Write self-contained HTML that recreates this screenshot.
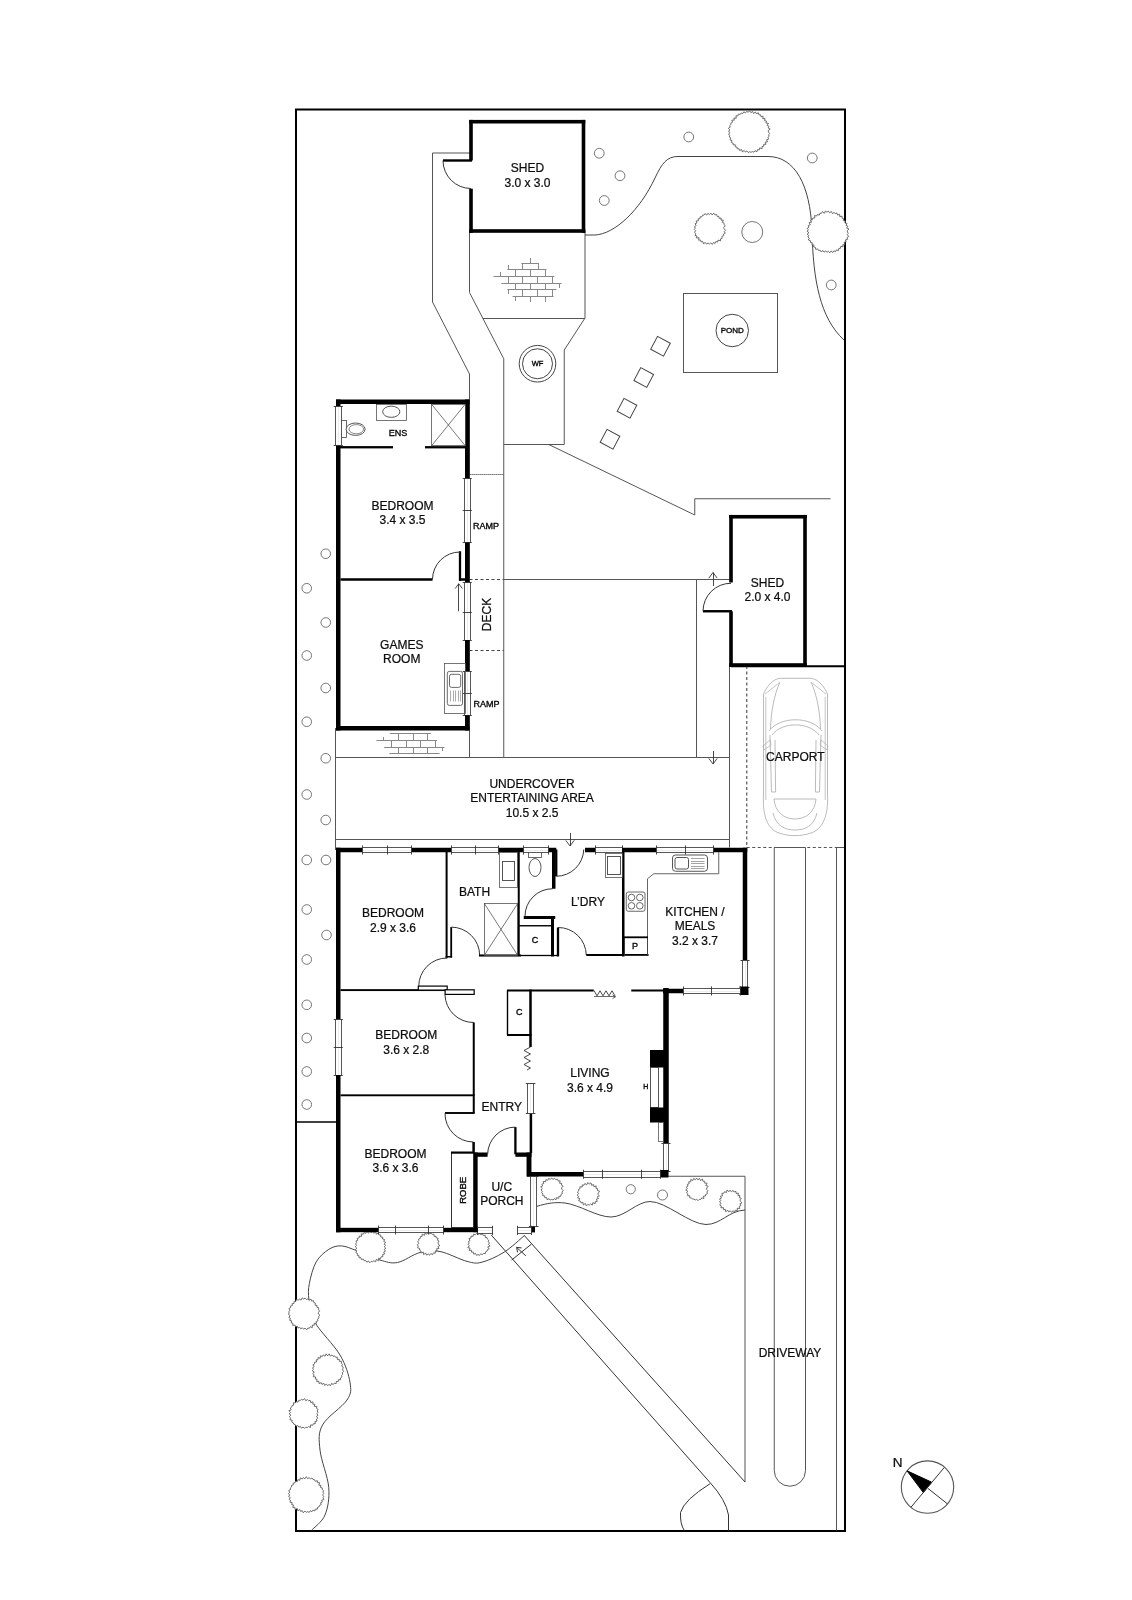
<!DOCTYPE html>
<html><head><meta charset="utf-8">
<style>
html,body{margin:0;padding:0;background:#fff;}
body{width:1132px;height:1600px;overflow:hidden;}
svg{display:block;font-family:"Liberation Sans",sans-serif;will-change:transform;}
text{stroke:#000;stroke-width:0.22px;}
</style></head><body>
<svg width="1132" height="1600" viewBox="0 0 1132 1600">
<rect x="296" y="109.5" width="549" height="1421.5" rx="0" stroke="#000" stroke-width="2" fill="none" />
<line x1="296" y1="1122" x2="336" y2="1122" stroke="#000" stroke-width="1.5" />
<polyline points="471,153 432.5,153 432.5,302 469.5,374 469.5,757.5" stroke="#555" stroke-width="1" fill="none" />
<polyline points="469.5,231 469.5,292.5 503.75,358.75 503.75,757.5" stroke="#555" stroke-width="1" fill="none" />
<polyline points="585,231 585,318 564.25,350 564.25,444.5" stroke="#555" stroke-width="1" fill="none" />
<line x1="482.7" y1="318.5" x2="585" y2="318.5" stroke="#555" stroke-width="1" />
<line x1="503.75" y1="444.5" x2="564.25" y2="444.5" stroke="#555" stroke-width="1" />
<polyline points="548.75,444.5 694.75,515 694.75,498.75 830.5,498.75" stroke="#555" stroke-width="1" fill="none" />
<line x1="469.5" y1="474.5" x2="503.75" y2="474.5" stroke="#444" stroke-width="1" stroke-dasharray="1.2,0.8"/>
<line x1="469.5" y1="579.5" x2="503.75" y2="579.5" stroke="#444" stroke-width="1" stroke-dasharray="3,2.5"/>
<line x1="469.5" y1="650.5" x2="503.75" y2="650.5" stroke="#444" stroke-width="1" stroke-dasharray="3,2.5"/>
<line x1="503.75" y1="579.5" x2="731" y2="579.5" stroke="#555" stroke-width="1" />
<line x1="696.5" y1="579.5" x2="696.5" y2="757.5" stroke="#555" stroke-width="1" />
<line x1="335.75" y1="757.5" x2="729.25" y2="757.5" stroke="#555" stroke-width="1" />
<line x1="335.75" y1="839.5" x2="729.25" y2="839.5" stroke="#555" stroke-width="1" />
<line x1="335.5" y1="728" x2="335.5" y2="850" stroke="#555" stroke-width="1" />
<line x1="729.5" y1="666" x2="729.5" y2="847.5" stroke="#555" stroke-width="1" />
<line x1="713.5" y1="586" x2="713.5" y2="572.5" stroke="#333" stroke-width="0.9" />
<line x1="713" y1="572.5" x2="717.19" y2="578.11" stroke="#333" stroke-width="0.9" />
<line x1="713" y1="572.5" x2="708.81" y2="578.11" stroke="#333" stroke-width="0.9" />
<line x1="713.5" y1="751" x2="713.5" y2="764" stroke="#333" stroke-width="0.9" />
<line x1="713" y1="764" x2="708.81" y2="758.39" stroke="#333" stroke-width="0.9" />
<line x1="713" y1="764" x2="717.19" y2="758.39" stroke="#333" stroke-width="0.9" />
<line x1="570.5" y1="833" x2="570.5" y2="846" stroke="#333" stroke-width="0.9" />
<line x1="570" y1="846" x2="565.81" y2="840.39" stroke="#333" stroke-width="0.9" />
<line x1="570" y1="846" x2="574.19" y2="840.39" stroke="#333" stroke-width="0.9" />
<line x1="731" y1="666.25" x2="844.5" y2="666.25" stroke="#000" stroke-width="2" />
<line x1="746.75" y1="666" x2="746.75" y2="847.5" stroke="#555" stroke-width="1.2" stroke-dasharray="3,2.5"/>
<line x1="746.75" y1="847.5" x2="844.5" y2="847.5" stroke="#555" stroke-width="1.2" stroke-dasharray="3,2.5"/>
<path d="M774.25,847.5 L774.25,1470.6 A15.6,15.6 0 0 0 805.5,1470.6 L805.5,847.5 Z" stroke="#555" stroke-width="1" fill="none" />
<line x1="836.5" y1="847.5" x2="836.5" y2="1530.5" stroke="#555" stroke-width="1" />
<line x1="836" y1="847.5" x2="844" y2="847.5" stroke="#555" stroke-width="1" />
<polyline points="668,1176.25 745,1176.25 745,1482" stroke="#555" stroke-width="1" fill="none" />
<line x1="524.1" y1="1235.3" x2="745" y2="1482" stroke="#333" stroke-width="1" />
<line x1="491.25" y1="1235" x2="710" y2="1482.5" stroke="#333" stroke-width="1" />
<path d="M710,1482.5 Q726,1500 728.5,1515 L728.5,1530.5" stroke="#333" stroke-width="1" fill="none" />
<path d="M710,1483.75 Q684,1500 680.5,1512.5 Q680,1524 684.25,1530.5" stroke="#333" stroke-width="1" fill="none" />
<path d="M585,235 L595,235 C615,234 640,210 655,178 C662,163 667,156.5 678,156.5 L768,156.5 C795,156.5 810,185 812,230 C813,280 820,318 844,340" stroke="#444" stroke-width="1" fill="none" />
<circle cx="599.25" cy="153.25" r="4.9" stroke="#666" stroke-width="0.9" fill="none"/>
<circle cx="620" cy="175.75" r="4.9" stroke="#666" stroke-width="0.9" fill="none"/>
<circle cx="604.25" cy="200.5" r="4.9" stroke="#666" stroke-width="0.9" fill="none"/>
<circle cx="688.75" cy="137" r="4.9" stroke="#666" stroke-width="0.9" fill="none"/>
<circle cx="812.25" cy="158" r="4.9" stroke="#666" stroke-width="0.9" fill="none"/>
<circle cx="831.25" cy="285" r="4.9" stroke="#666" stroke-width="0.9" fill="none"/>
<polygon points="768.47,132.0 769.65,133.44 768.61,134.75 769.17,136.28 767.92,137.42 768.64,139.14 766.53,139.79 767.57,141.87 765.25,142.14 765.94,144.31 763.69,144.31 763.8,146.29 762.04,146.48 762.09,148.78 759.71,147.89 759.3,149.89 757.59,149.66 756.95,151.8 755.01,150.61 753.96,152.15 752.39,151.63 751.04,152.27 749.6,151.76 748.16,152.56 746.9,150.9 745.31,152.03 744.22,150.54 742.3,151.94 741.72,149.53 739.67,150.56 739.09,148.69 737.28,148.85 736.9,147.02 735.24,146.77 735.27,144.8 733.19,144.74 733.09,143.06 731.36,142.47 732.02,140.51 729.92,139.91 730.87,138.05 729.28,137.04 729.86,135.46 728.37,134.22 730.12,132.68 728.39,131.26 729.93,129.95 728.4,128.28 730.22,127.2 729.69,125.57 730.85,124.47 730.94,122.96 732.58,122.24 731.87,120.11 734.32,120.16 733.92,117.96 736.22,118.26 735.93,115.81 737.86,115.97 738.39,114.17 740.18,114.43 741.11,113.06 742.8,113.5 743.78,111.83 745.49,112.89 746.69,111.4 748.21,112.29 749.62,110.76 750.96,112.7 752.57,111.3 753.56,113.54 755.46,111.94 756.33,113.78 758.34,112.75 758.91,114.81 760.57,114.81 760.97,116.68 763.13,116.29 762.75,118.74 765.05,118.53 764.6,120.68 766.5,121.07 765.94,123.01 768.46,123.34 767.11,125.42 768.98,126.27 768.11,127.94 770.21,129.02 768.18,130.66" stroke="#555" stroke-width="0.85" fill="#fff" stroke-linejoin="round"/>
<polygon points="724.1,228.75 725.53,230.23 724.27,231.51 725.24,233.23 723.49,234.16 723.65,235.79 721.86,236.39 722.15,238.31 720.57,238.83 720.55,240.9 718.06,240.08 717.7,242.03 715.84,241.5 715.1,243.33 713.42,242.66 712.35,244.43 710.75,242.88 709.39,244.05 708.08,242.97 706.47,244.07 705.41,242.55 703.44,243.73 702.85,241.61 701.0,241.93 700.62,240.04 698.59,240.18 699.11,237.78 696.47,238.02 696.98,235.99 694.99,235.37 695.84,233.49 694.49,232.4 695.59,230.75 694.36,229.47 695.23,228.07 694.54,226.6 696.16,225.51 695.07,223.75 696.92,222.99 696.14,221.04 698.31,220.76 698.08,218.85 699.93,218.7 700.07,216.77 701.86,216.87 702.51,215.24 704.02,215.13 704.97,213.57 706.81,215.01 707.93,213.3 709.42,214.51 710.85,213.12 712.04,214.92 713.87,213.14 714.88,214.77 716.54,214.52 717.14,216.41 718.85,216.35 719.05,218.29 721.19,218.08 720.97,220.11 723.39,220.15 722.29,222.4 724.01,223.14 724.02,224.63 725.3,225.8 723.73,227.43" stroke="#555" stroke-width="0.85" fill="#fff" stroke-linejoin="round"/>
<polygon points="847.44,232.0 848.28,233.43 847.23,234.73 848.8,236.47 846.98,237.51 847.7,239.26 845.47,239.88 846.19,241.8 844.11,242.21 844.96,244.51 842.79,244.61 843.04,246.77 840.73,246.41 840.47,248.3 838.84,248.46 838.42,250.56 836.44,249.86 835.64,251.67 833.83,250.84 832.79,252.49 831.03,250.89 829.83,252.74 828.34,251.25 826.92,252.3 825.67,250.78 824.03,252.19 822.99,250.49 821.09,251.82 820.16,250.24 818.48,250.44 817.68,248.94 815.67,249.35 815.39,247.33 813.78,246.99 813.9,244.91 811.92,244.76 812.24,242.78 810.3,242.36 810.5,240.65 808.38,240.03 809.25,238.17 807.85,237.08 808.75,235.43 807.02,234.23 809.03,232.67 807.05,231.26 808.3,229.91 807.25,228.3 808.95,227.19 808.26,225.51 810.34,224.78 809.09,222.66 811.4,222.29 810.59,220.08 812.43,219.65 812.73,218.03 814.72,218.0 814.5,215.59 816.63,216.0 817.35,214.52 819.27,215.09 819.92,213.21 821.48,213.3 822.48,211.63 824.33,213.31 825.4,211.03 826.95,212.15 828.37,211.05 829.7,212.82 831.3,211.41 832.33,213.47 834.0,212.59 835.2,213.48 836.95,213.06 837.51,215.06 839.68,214.27 839.75,216.64 842.02,216.13 842.07,218.18 843.61,218.69 843.41,220.63 845.4,220.98 844.85,222.92 847.04,223.42 845.98,225.38 847.9,226.23 846.61,228.0 849.0,229.02 847.21,230.64" stroke="#555" stroke-width="0.85" fill="#fff" stroke-linejoin="round"/>
<circle cx="752.25" cy="232" r="10.5" stroke="#666" stroke-width="0.9" fill="none"/>
<rect x="683.5" y="293.5" width="94.0" height="79.0" rx="0" stroke="#555" stroke-width="1" fill="none" />
<circle cx="732.25" cy="330.5" r="16.25" stroke="#444" stroke-width="1" fill="none"/>
<text x="732.25" y="333.36" font-size="8" text-anchor="middle" fill="#111" style="stroke-width:0.35px">POND</text>
<rect x="653.25" y="339.0" width="14.5" height="14.5" fill="none" stroke="#444" stroke-width="1" transform="rotate(28 660.5 346.25)"/>
<rect x="636.5" y="370.25" width="14.5" height="14.5" fill="none" stroke="#444" stroke-width="1" transform="rotate(28 643.75 377.5)"/>
<rect x="619.75" y="401.0" width="14.5" height="14.5" fill="none" stroke="#444" stroke-width="1" transform="rotate(28 627 408.25)"/>
<rect x="602.75" y="432.0" width="14.5" height="14.5" fill="none" stroke="#444" stroke-width="1" transform="rotate(28 610 439.25)"/>
<circle cx="325.75" cy="553.75" r="4.8" stroke="#666" stroke-width="0.9" fill="none"/>
<circle cx="306.75" cy="588.25" r="4.8" stroke="#666" stroke-width="0.9" fill="none"/>
<circle cx="325.75" cy="622.5" r="4.8" stroke="#666" stroke-width="0.9" fill="none"/>
<circle cx="306.75" cy="655.5" r="4.8" stroke="#666" stroke-width="0.9" fill="none"/>
<circle cx="325.75" cy="688" r="4.8" stroke="#666" stroke-width="0.9" fill="none"/>
<circle cx="306.75" cy="721.75" r="4.8" stroke="#666" stroke-width="0.9" fill="none"/>
<circle cx="325.75" cy="758.25" r="4.8" stroke="#666" stroke-width="0.9" fill="none"/>
<circle cx="306.75" cy="794.5" r="4.8" stroke="#666" stroke-width="0.9" fill="none"/>
<circle cx="325.75" cy="820" r="4.8" stroke="#666" stroke-width="0.9" fill="none"/>
<circle cx="306.75" cy="860" r="4.8" stroke="#666" stroke-width="0.9" fill="none"/>
<circle cx="326" cy="860" r="4.8" stroke="#666" stroke-width="0.9" fill="none"/>
<circle cx="306.75" cy="909.5" r="4.8" stroke="#666" stroke-width="0.9" fill="none"/>
<circle cx="326.5" cy="935" r="4.8" stroke="#666" stroke-width="0.9" fill="none"/>
<circle cx="306.75" cy="959.5" r="4.8" stroke="#666" stroke-width="0.9" fill="none"/>
<circle cx="306.75" cy="1004.8" r="4.8" stroke="#666" stroke-width="0.9" fill="none"/>
<circle cx="306.75" cy="1038" r="4.8" stroke="#666" stroke-width="0.9" fill="none"/>
<circle cx="306.75" cy="1071.5" r="4.8" stroke="#666" stroke-width="0.9" fill="none"/>
<circle cx="306.75" cy="1104.5" r="4.8" stroke="#666" stroke-width="0.9" fill="none"/>
<path d="M536.25,1206.5 C548,1203 555,1202 565,1203 C580,1205 597,1217 611,1217 C625,1217 637,1201.5 650,1201.5 C666,1201.5 690,1224.5 706,1224.5 C721,1224.5 728,1211 745,1210" stroke="#444" stroke-width="1" fill="none" />
<polygon points="561.86,1189.25 563.28,1190.77 561.94,1191.97 562.33,1193.63 560.88,1194.51 560.87,1196.25 558.9,1196.39 558.72,1198.37 556.53,1197.51 556.04,1199.74 554.22,1198.57 553.08,1200.0 551.66,1199.44 550.17,1200.07 549.07,1198.68 547.15,1199.7 546.64,1197.64 544.82,1197.75 544.64,1195.9 542.64,1195.68 542.91,1193.84 541.7,1192.83 542.24,1191.23 540.98,1189.99 542.34,1188.6 540.66,1186.94 542.64,1186.0 541.86,1184.13 543.62,1183.5 543.31,1181.39 545.64,1181.73 545.86,1179.63 547.83,1180.26 548.65,1178.45 550.32,1179.3 551.62,1178.0 552.99,1179.37 554.61,1178.28 555.72,1179.6 557.53,1179.17 558.1,1180.98 560.16,1180.81 559.58,1183.26 561.77,1183.46 561.52,1185.21 563.23,1186.17 561.45,1187.98" stroke="#555" stroke-width="0.85" fill="#fff" stroke-linejoin="round"/>
<polygon points="597.77,1194.25 599.39,1195.75 597.39,1196.75 598.41,1198.56 596.4,1199.08 597.25,1201.36 595.33,1201.57 595.19,1203.67 592.84,1202.63 592.39,1205.0 590.58,1204.04 589.35,1205.14 587.91,1204.53 586.29,1205.85 585.4,1203.44 583.3,1204.91 582.98,1202.51 580.96,1202.87 580.54,1201.22 578.66,1200.83 579.72,1198.56 577.64,1197.93 578.53,1196.23 577.14,1194.99 578.68,1193.61 577.35,1192.04 578.69,1190.93 578.59,1189.37 580.04,1188.62 579.91,1186.71 582.17,1187.06 582.26,1184.87 584.03,1185.16 584.9,1183.45 586.68,1184.92 587.86,1182.47 589.27,1184.11 590.98,1182.8 591.67,1185.38 593.57,1184.55 593.85,1186.65 596.3,1185.93 595.84,1188.26 597.65,1188.68 597.29,1190.42 599.55,1191.16 598.38,1192.89" stroke="#555" stroke-width="0.85" fill="#fff" stroke-linejoin="round"/>
<polygon points="706.66,1189.25 707.85,1190.71 706.95,1191.98 707.47,1193.69 705.69,1194.4 705.55,1196.0 703.57,1196.05 703.81,1198.5 701.72,1197.87 700.91,1199.4 699.4,1199.31 698.14,1200.63 696.66,1199.45 695.19,1199.98 693.96,1199.05 692.43,1199.11 691.48,1197.9 689.73,1197.84 689.78,1195.78 687.64,1195.68 687.78,1193.91 686.54,1192.88 687.66,1191.15 685.7,1190.01 687.38,1188.61 686.31,1187.08 687.97,1186.11 687.32,1184.36 689.08,1183.82 688.76,1181.8 690.73,1181.84 690.78,1179.51 692.92,1180.46 693.65,1178.46 695.41,1179.81 696.63,1178.11 697.94,1179.88 699.56,1178.5 700.38,1180.46 702.54,1179.14 702.9,1181.24 704.64,1181.35 704.75,1183.13 707.1,1183.27 705.75,1185.54 708.21,1186.18 706.74,1187.94" stroke="#555" stroke-width="0.85" fill="#fff" stroke-linejoin="round"/>
<polygon points="740.4,1201.25 742.03,1202.8 739.95,1203.84 740.91,1205.66 739.18,1206.39 739.75,1208.55 737.27,1208.25 737.4,1210.61 735.36,1210.11 734.61,1211.92 732.77,1210.79 731.62,1212.34 730.18,1210.7 728.68,1212.03 727.69,1210.3 725.64,1211.72 725.3,1209.39 723.42,1209.62 723.47,1207.61 720.9,1207.84 721.33,1205.88 719.66,1205.01 721.01,1203.18 719.48,1201.99 720.83,1200.6 719.47,1199.01 721.47,1198.11 720.46,1196.18 722.53,1195.78 721.78,1193.36 723.8,1193.33 724.39,1191.69 726.44,1192.5 727.01,1190.01 728.89,1191.68 730.13,1190.1 731.44,1191.9 733.09,1190.37 734.05,1192.04 735.93,1191.34 736.2,1193.52 738.36,1193.12 737.88,1195.42 740.02,1195.61 739.24,1197.55 741.3,1198.29 739.86,1199.99" stroke="#555" stroke-width="0.85" fill="#fff" stroke-linejoin="round"/>
<circle cx="630.75" cy="1189.25" r="4.6" stroke="#666" stroke-width="0.9" fill="none"/>
<circle cx="662.5" cy="1195" r="5" stroke="#666" stroke-width="0.9" fill="none"/>
<path d="M524.6,1235.4 C521.20,1238.18 511.30,1247.63 504.2,1252.1 C497.10,1256.57 488.18,1260.65 482,1262.2 C475.82,1263.75 474.10,1263.18 467.1,1261.4 C460.10,1259.62 447.85,1252.98 440,1251.5 C432.15,1250.02 427.08,1250.67 420,1252.5 C412.92,1254.33 404.17,1261.25 397.5,1262.5 C390.83,1263.75 386.75,1261.95 380,1260 C373.25,1258.05 363.42,1253.15 357,1250.8 C350.58,1248.45 346.18,1246.15 341.5,1245.9 C336.82,1245.65 333.12,1246.63 328.9,1249.3 C324.68,1251.97 319.45,1256.23 316.2,1261.9 C312.95,1267.57 310.60,1276.95 309.4,1283.3 C308.20,1289.65 308.07,1293.47 309,1300 C309.93,1306.53 309.83,1313.33 315,1322.5 C320.17,1331.67 334.17,1345.00 340,1355 C345.83,1365.00 348.83,1375.00 350,1382.5 C351.17,1390.00 351.58,1392.92 347,1400 C342.42,1407.08 327.00,1416.67 322.5,1425 C318.00,1433.33 318.96,1439.58 320,1450 C321.04,1460.42 327.92,1476.67 328.75,1487.5 C329.58,1498.33 327.92,1507.83 325,1515 C322.08,1522.17 313.54,1527.92 311.25,1530.5" stroke="#444" stroke-width="1" fill="none" />
<polygon points="384.22,1246.8 385.83,1248.26 384.18,1249.44 385.55,1251.22 383.71,1252.09 384.59,1254.06 382.58,1254.56 382.93,1256.58 381.05,1256.86 380.64,1258.51 378.64,1258.23 378.54,1260.73 376.25,1259.4 375.68,1261.75 373.88,1260.74 372.66,1261.79 371.19,1261.32 369.74,1262.77 368.46,1260.98 366.77,1262.19 365.75,1260.51 364.17,1260.66 363.39,1259.12 361.45,1259.51 360.98,1257.78 358.99,1257.78 359.08,1255.78 357.31,1255.28 357.53,1253.49 355.85,1252.67 356.69,1250.86 355.45,1249.7 356.83,1248.11 355.27,1246.8 356.5,1245.46 355.57,1243.92 356.55,1242.7 355.96,1240.98 357.76,1240.23 357.27,1238.3 359.2,1237.91 359.22,1236.04 361.53,1236.44 361.28,1233.85 363.28,1234.29 364.02,1232.61 365.84,1233.35 366.78,1231.48 368.54,1233.17 369.75,1230.98 371.16,1232.86 372.66,1231.78 373.79,1233.23 375.68,1231.84 376.28,1234.15 378.42,1233.08 379.01,1234.85 380.71,1235.01 380.69,1237.08 382.75,1237.17 382.6,1239.02 384.6,1239.53 383.79,1241.48 385.61,1242.36 384.03,1244.19 385.68,1245.35" stroke="#555" stroke-width="0.85" fill="#fff" stroke-linejoin="round"/>
<polygon points="438.15,1244.0 439.94,1245.54 437.86,1246.56 438.97,1248.44 436.6,1248.8 437.02,1250.73 435.22,1250.95 435.3,1253.24 433.35,1252.85 432.62,1254.71 430.75,1253.43 429.63,1255.26 428.17,1253.86 426.63,1255.11 425.68,1253.09 423.58,1254.61 423.33,1252.09 420.9,1252.99 420.83,1250.93 419.58,1250.12 419.7,1248.45 417.52,1247.81 418.34,1246.07 417.28,1244.75 418.85,1243.35 417.71,1241.81 418.73,1240.61 418.67,1239.03 420.27,1238.35 420.39,1236.66 422.09,1236.42 422.18,1234.09 424.49,1235.35 425.06,1232.9 426.85,1234.23 428.11,1232.32 429.51,1233.95 431.06,1233.27 432.2,1234.39 433.92,1234.1 434.09,1236.41 436.01,1236.23 436.26,1237.87 438.18,1238.27 437.43,1240.21 439.05,1241.11 438.16,1242.7" stroke="#555" stroke-width="0.85" fill="#fff" stroke-linejoin="round"/>
<polygon points="488.32,1244.4 490.13,1245.96 487.66,1246.88 489.21,1248.92 487.38,1249.62 487.12,1251.17 485.71,1251.8 485.32,1253.64 483.45,1253.37 482.45,1254.66 480.75,1253.77 479.55,1255.37 478.1,1254.58 476.52,1255.36 475.6,1253.41 473.73,1254.19 473.34,1252.14 471.53,1252.18 471.58,1250.27 469.03,1250.34 470.1,1248.18 467.69,1247.51 469.44,1245.69 467.93,1244.4 469.18,1243.08 468.41,1241.49 470.02,1240.59 468.93,1238.4 470.98,1238.04 471.01,1236.06 473.13,1236.37 473.5,1234.18 475.4,1234.84 476.53,1233.48 478.12,1234.5 479.53,1233.78 480.82,1234.68 482.5,1233.99 483.38,1235.56 485.28,1235.21 485.27,1237.47 487.06,1237.68 487.45,1239.14 488.64,1240.13 488.11,1241.79 489.64,1242.91" stroke="#555" stroke-width="0.85" fill="#fff" stroke-linejoin="round"/>
<polygon points="318.2,1313.75 319.97,1315.25 318.62,1316.52 318.95,1318.07 317.54,1319.08 317.92,1320.8 316.23,1321.46 316.43,1323.33 314.29,1323.34 314.27,1325.3 312.35,1325.12 312.32,1327.66 310.2,1326.74 309.35,1328.32 307.78,1328.07 306.66,1329.83 305.01,1328.06 303.64,1329.19 302.35,1327.75 300.78,1328.8 299.73,1327.34 298.03,1327.93 297.32,1326.21 295.39,1326.71 294.9,1325.0 292.69,1325.33 292.83,1323.22 291.12,1322.75 291.55,1320.81 289.56,1320.23 290.49,1318.35 288.79,1317.38 290.18,1315.71 288.44,1314.48 289.15,1313.05 288.73,1311.59 289.99,1310.4 288.92,1308.61 290.53,1307.7 290.5,1306.1 292.38,1305.64 292.14,1303.69 294.01,1303.52 294.1,1301.51 295.78,1301.38 296.37,1299.52 298.27,1300.13 299.4,1299.13 301.08,1300.13 302.13,1297.85 303.65,1298.96 305.11,1298.02 306.37,1299.46 307.9,1298.96 308.92,1300.33 310.99,1299.11 311.56,1301.11 313.56,1300.72 313.88,1302.64 315.37,1303.15 315.1,1305.2 317.07,1305.51 316.87,1307.23 318.87,1307.89 318.26,1309.63 319.74,1310.76 318.48,1312.39" stroke="#555" stroke-width="0.85" fill="#fff" stroke-linejoin="round"/>
<polygon points="342.66,1370.0 343.69,1371.48 342.2,1372.69 342.74,1374.26 341.66,1375.38 341.86,1377.02 340.54,1377.91 340.63,1379.73 338.39,1379.68 338.25,1381.53 336.37,1381.41 336.18,1383.68 334.29,1383.17 333.31,1384.47 331.56,1383.51 330.59,1385.61 329.02,1384.45 327.63,1385.68 326.35,1384.03 324.67,1385.55 323.83,1383.27 321.95,1384.38 321.21,1382.66 319.01,1383.55 318.86,1381.31 316.69,1381.58 317.04,1379.3 315.26,1378.89 315.69,1376.98 313.17,1376.66 314.18,1374.71 312.82,1373.63 314.22,1371.95 312.22,1370.74 313.44,1369.32 312.44,1367.8 314.23,1366.71 312.89,1364.85 314.48,1363.93 314.49,1362.34 316.58,1362.02 316.07,1359.89 317.99,1359.76 317.95,1357.57 320.2,1358.25 320.39,1355.81 322.32,1356.51 323.26,1354.92 325.05,1356.21 326.1,1353.84 327.67,1355.79 329.13,1353.92 330.31,1356.06 331.96,1354.99 333.05,1356.24 334.72,1355.93 335.63,1357.26 337.34,1357.26 337.36,1359.47 339.36,1359.42 339.34,1361.26 341.5,1361.48 341.25,1363.29 342.37,1364.34 341.73,1366.03 343.24,1367.11 342.81,1368.61" stroke="#555" stroke-width="0.85" fill="#fff" stroke-linejoin="round"/>
<polygon points="316.79,1413.75 318.03,1415.2 316.44,1416.36 317.77,1418.15 316.43,1419.19 317.03,1421.12 314.94,1421.54 315.36,1423.71 313.28,1423.78 312.7,1425.32 310.67,1424.85 310.46,1427.43 308.49,1426.55 307.34,1427.62 305.8,1427.16 304.49,1428.41 303.08,1427.01 301.53,1428.21 300.47,1426.4 298.78,1427.16 297.95,1425.58 296.0,1426.18 295.27,1424.71 293.81,1424.2 293.23,1422.78 291.84,1422.04 292.16,1420.18 289.85,1419.71 290.66,1417.86 289.32,1416.72 290.87,1415.06 288.98,1413.75 290.55,1412.41 288.84,1410.69 291.26,1409.83 290.27,1407.97 291.69,1407.05 291.99,1405.56 293.65,1405.08 293.34,1402.8 295.38,1402.94 296.16,1401.58 298.05,1402.14 298.76,1400.28 300.29,1400.37 301.55,1399.36 303.06,1400.12 304.52,1398.57 305.75,1400.66 307.4,1399.64 308.56,1400.75 310.32,1400.36 310.71,1402.58 312.94,1401.88 312.86,1404.17 314.81,1404.26 314.34,1406.38 316.91,1406.44 316.45,1408.3 318.0,1409.28 317.31,1410.96 318.0,1412.3" stroke="#555" stroke-width="0.85" fill="#fff" stroke-linejoin="round"/>
<polygon points="322.38,1495.0 323.96,1496.47 322.88,1497.77 323.95,1499.48 321.65,1500.29 322.32,1502.05 320.61,1502.77 321.15,1504.73 319.53,1505.34 319.11,1506.84 317.56,1507.29 317.33,1509.23 315.4,1509.0 314.85,1510.89 312.88,1510.12 311.97,1511.67 310.23,1510.72 309.16,1512.42 307.63,1511.63 306.25,1512.38 304.92,1511.04 303.28,1512.81 302.29,1510.65 300.61,1511.42 299.85,1509.59 297.75,1510.7 297.38,1508.58 295.02,1509.43 294.88,1507.35 292.8,1507.39 293.49,1504.93 291.7,1504.51 292.18,1502.61 289.95,1502.15 290.54,1500.39 289.05,1499.36 290.34,1497.66 288.59,1496.46 289.73,1495.0 288.34,1493.52 289.83,1492.26 288.66,1490.55 290.58,1489.62 290.3,1488.0 291.53,1487.03 291.52,1485.38 293.26,1484.89 293.25,1483.03 294.98,1482.76 295.5,1481.19 297.42,1481.48 297.9,1479.57 299.8,1480.3 300.35,1477.8 302.2,1479.03 303.35,1477.61 304.9,1478.76 306.25,1476.71 307.6,1478.65 309.14,1477.71 310.35,1478.8 312.08,1478.02 313.04,1479.53 314.53,1479.7 315.21,1481.29 317.38,1480.7 317.59,1482.68 319.65,1482.66 318.83,1485.21 320.98,1485.38 320.34,1487.38 322.27,1487.97 322.21,1489.52 323.59,1490.61 322.85,1492.23 323.86,1493.54" stroke="#555" stroke-width="0.85" fill="#fff" stroke-linejoin="round"/>
<line x1="511.6" y1="1260.1" x2="531.4" y2="1244.1" stroke="#333" stroke-width="1" />
<line x1="525.8" y1="1255.8" x2="516.6" y2="1247.4" stroke="#333" stroke-width="1" />
<line x1="516.6" y1="1247.4" x2="521.58" y2="1247.89" stroke="#333" stroke-width="1" />
<line x1="516.6" y1="1247.4" x2="517.54" y2="1252.31" stroke="#333" stroke-width="1" />
<circle cx="927.5" cy="1487.1" r="26.2" stroke="#555" stroke-width="1.1" fill="none"/>
<text x="897.5" y="1466.63" font-size="13.5" text-anchor="middle" fill="#111">N</text>
<polygon points="907,1470.8 931.7,1482.2 923.3,1492.5" stroke="#000" stroke-width="1" fill="#000" />
<line x1="944.2" y1="1467.6" x2="911" y2="1507.2" stroke="#333" stroke-width="1" />
<line x1="927.7" y1="1488.2" x2="947.6" y2="1504" stroke="#333" stroke-width="1" />
<line x1="521.4" y1="263.5" x2="538.8" y2="263.5" stroke="#888" stroke-width="1" />
<line x1="507.3" y1="269.5" x2="546.5" y2="269.5" stroke="#888" stroke-width="1" />
<line x1="493.5" y1="276.5" x2="554.3" y2="276.5" stroke="#888" stroke-width="1" />
<line x1="501.3" y1="283.5" x2="561.7" y2="283.5" stroke="#888" stroke-width="1" />
<line x1="507.3" y1="289.5" x2="556.4" y2="289.5" stroke="#888" stroke-width="1" />
<line x1="512.6" y1="296.5" x2="553.6" y2="296.5" stroke="#888" stroke-width="1" />
<line x1="522.5" y1="263.3" x2="522.5" y2="269.4" stroke="#888" stroke-width="1" />
<line x1="538.5" y1="263.3" x2="538.5" y2="269.4" stroke="#888" stroke-width="1" />
<line x1="515.5" y1="269.4" x2="515.5" y2="276.5" stroke="#888" stroke-width="1" />
<line x1="530.5" y1="269.4" x2="530.5" y2="276.5" stroke="#888" stroke-width="1" />
<line x1="545.5" y1="269.4" x2="545.5" y2="276.5" stroke="#888" stroke-width="1" />
<line x1="508.5" y1="276.5" x2="508.5" y2="283.4" stroke="#888" stroke-width="1" />
<line x1="522.5" y1="276.5" x2="522.5" y2="283.4" stroke="#888" stroke-width="1" />
<line x1="537.5" y1="276.5" x2="537.5" y2="283.4" stroke="#888" stroke-width="1" />
<line x1="552.5" y1="276.5" x2="552.5" y2="283.4" stroke="#888" stroke-width="1" />
<line x1="515.5" y1="283.4" x2="515.5" y2="289.9" stroke="#888" stroke-width="1" />
<line x1="530.5" y1="283.4" x2="530.5" y2="289.9" stroke="#888" stroke-width="1" />
<line x1="545.5" y1="283.4" x2="545.5" y2="289.9" stroke="#888" stroke-width="1" />
<line x1="522.5" y1="289.9" x2="522.5" y2="296.5" stroke="#888" stroke-width="1" />
<line x1="537.5" y1="289.9" x2="537.5" y2="296.5" stroke="#888" stroke-width="1" />
<line x1="552.5" y1="289.9" x2="552.5" y2="296.5" stroke="#888" stroke-width="1" />
<line x1="530.5" y1="258" x2="530.5" y2="263.3" stroke="#888" stroke-width="1" />
<line x1="508.5" y1="265" x2="508.5" y2="269.4" stroke="#888" stroke-width="1" />
<line x1="500.5" y1="272" x2="500.5" y2="276.5" stroke="#888" stroke-width="1" />
<line x1="559.5" y1="283.4" x2="559.5" y2="288" stroke="#888" stroke-width="1" />
<line x1="508.5" y1="289.9" x2="508.5" y2="294" stroke="#888" stroke-width="1" />
<line x1="515.5" y1="296.5" x2="515.5" y2="301" stroke="#888" stroke-width="1" />
<line x1="530.5" y1="296.5" x2="530.5" y2="302" stroke="#888" stroke-width="1" />
<line x1="545.5" y1="296.5" x2="545.5" y2="302" stroke="#888" stroke-width="1" />
<line x1="389.8" y1="733.5" x2="430.8" y2="733.5" stroke="#888" stroke-width="1" />
<line x1="376.4" y1="740.5" x2="437.1" y2="740.5" stroke="#888" stroke-width="1" />
<line x1="384.1" y1="747.5" x2="444.6" y2="747.5" stroke="#888" stroke-width="1" />
<line x1="389.4" y1="753.5" x2="439.6" y2="753.5" stroke="#888" stroke-width="1" />
<line x1="398.5" y1="733.8" x2="398.5" y2="740.5" stroke="#888" stroke-width="1" />
<line x1="413.5" y1="733.8" x2="413.5" y2="740.5" stroke="#888" stroke-width="1" />
<line x1="427.5" y1="733.8" x2="427.5" y2="740.5" stroke="#888" stroke-width="1" />
<line x1="391.5" y1="740.5" x2="391.5" y2="747.1" stroke="#888" stroke-width="1" />
<line x1="406.5" y1="740.5" x2="406.5" y2="747.1" stroke="#888" stroke-width="1" />
<line x1="420.5" y1="740.5" x2="420.5" y2="747.1" stroke="#888" stroke-width="1" />
<line x1="435.5" y1="740.5" x2="435.5" y2="747.1" stroke="#888" stroke-width="1" />
<line x1="398.5" y1="747.1" x2="398.5" y2="753.9" stroke="#888" stroke-width="1" />
<line x1="413.5" y1="747.1" x2="413.5" y2="753.9" stroke="#888" stroke-width="1" />
<line x1="427.5" y1="747.1" x2="427.5" y2="753.9" stroke="#888" stroke-width="1" />
<line x1="383.5" y1="737" x2="383.5" y2="740.5" stroke="#888" stroke-width="1" />
<line x1="442.5" y1="747.1" x2="442.5" y2="751" stroke="#888" stroke-width="1" />
<path d="M780,678.3 L811,678.3 C818,679 824,686 827.5,694 L827.5,795 C828.5,815 823,829 811,833 C801,836.5 789,836.5 779,833 C767,829 762.5,815 763.5,795 L763.5,694 C767,686 773,679 780,678.3 Z" stroke="#aaa" stroke-width="0.8" fill="none" />
<path d="M765.8,697 L765.8,800 M825.2,697 L825.2,800" stroke="#aaa" stroke-width="0.7" fill="none" />
<path d="M780,682 C774,695 771,712 770.5,729 M811,682 C817,695 820,712 820.5,729" stroke="#aaa" stroke-width="0.8" fill="none" />
<path d="M769,731 C780,716 811,716 822,731 M772,735 C782,721.5 809,721.5 819,735" stroke="#aaa" stroke-width="0.8" fill="none" />
<path d="M770,735 L771.5,792 L775.6,792 L775,740 M821,735 L819.5,792 L815.4,792 L816,740" stroke="#aaa" stroke-width="0.8" fill="none" />
<path d="M774,799 L816,799 C815,812 806,819 795,819 C784,819 775,812 774,799 Z" stroke="#aaa" stroke-width="0.8" fill="none" />
<path d="M773,813 C776,826 785,830 795,830 C805,830 814,826 817,813" stroke="#aaa" stroke-width="0.8" fill="none" />
<path d="M763,746 L770,740 L771,745 L764,750 Z M828,746 L821,740 L820,745 L827,750 Z" stroke="#aaa" stroke-width="0.7" fill="none" />
<path d="M765,694 L779,683 M826,694 L812,683" stroke="#aaa" stroke-width="0.7" fill="none" />
<rect x="469.20" y="119.90" width="116.10" height="3.60" fill="#000"/>
<rect x="581.70" y="119.90" width="3.60" height="112.90" fill="#000"/>
<rect x="469.20" y="229.20" width="116.10" height="3.60" fill="#000"/>
<rect x="469.20" y="119.90" width="3.60" height="40.60" fill="#000"/>
<rect x="469.20" y="188.70" width="3.60" height="44.10" fill="#000"/>
<rect x="443.00" y="159.30" width="29.00" height="2.40" fill="#000"/>
<path d="M443,160.5 A28,28 0 0 0 471,188.5" stroke="#333" stroke-width="1" fill="none" />
<text x="527.5" y="172.30" font-size="12" text-anchor="middle" fill="#111">SHED</text>
<text x="527.5" y="186.80" font-size="12" text-anchor="middle" fill="#111">3.0 x 3.0</text>
<rect x="729.20" y="514.95" width="77.60" height="3.60" fill="#000"/>
<rect x="803.20" y="514.95" width="3.60" height="151.85" fill="#000"/>
<rect x="729.20" y="663.20" width="77.60" height="3.60" fill="#000"/>
<rect x="729.20" y="514.95" width="3.60" height="67.55" fill="#000"/>
<rect x="729.20" y="611.25" width="3.60" height="55.55" fill="#000"/>
<rect x="703.00" y="610.05" width="29.00" height="2.40" fill="#000"/>
<path d="M703,611.25 A28,28 0 0 1 731,583.25" stroke="#333" stroke-width="1" fill="none" />
<text x="767.5" y="587.30" font-size="12" text-anchor="middle" fill="#111">SHED</text>
<text x="767.5" y="601.30" font-size="12" text-anchor="middle" fill="#111">2.0 x 4.0</text>
<rect x="336.00" y="399.50" width="133.50" height="4.50" fill="#000"/>
<rect x="336.00" y="399.50" width="4.50" height="331.00" fill="#000"/>
<rect x="336.00" y="726.00" width="133.50" height="4.50" fill="#000"/>
<rect x="335.30" y="406.00" width="5.90" height="39.00" fill="#fff"/>
<line x1="335.5" y1="406" x2="335.5" y2="445" stroke="#444" stroke-width="0.9" />
<line x1="341.5" y1="406" x2="341.5" y2="445" stroke="#444" stroke-width="0.9" />
<line x1="338.5" y1="406" x2="338.5" y2="445" stroke="#ccc" stroke-width="0.35" />
<line x1="333.7" y1="406.5" x2="342.8" y2="406.5" stroke="#333" stroke-width="0.9" />
<line x1="333.7" y1="445.5" x2="342.8" y2="445.5" stroke="#333" stroke-width="0.9" />
<rect x="465.00" y="399.50" width="4.50" height="79.25" fill="#000"/>
<rect x="464.30" y="478.75" width="5.90" height="63.75" fill="#fff"/>
<line x1="464.5" y1="478.75" x2="464.5" y2="542.5" stroke="#444" stroke-width="0.9" />
<line x1="470.5" y1="478.75" x2="470.5" y2="542.5" stroke="#444" stroke-width="0.9" />
<line x1="467.5" y1="478.75" x2="467.5" y2="542.5" stroke="#ccc" stroke-width="0.35" />
<line x1="462.7" y1="478.5" x2="471.8" y2="478.5" stroke="#333" stroke-width="0.9" />
<line x1="462.7" y1="510.5" x2="471.8" y2="510.5" stroke="#333" stroke-width="0.9" />
<line x1="462.7" y1="542.5" x2="471.8" y2="542.5" stroke="#333" stroke-width="0.9" />
<rect x="465.00" y="542.50" width="4.50" height="40.00" fill="#000"/>
<rect x="464.30" y="582.50" width="5.90" height="57.50" fill="#fff"/>
<line x1="464.5" y1="582.5" x2="464.5" y2="640" stroke="#444" stroke-width="0.9" />
<line x1="470.5" y1="582.5" x2="470.5" y2="640" stroke="#444" stroke-width="0.9" />
<line x1="467.5" y1="582.5" x2="467.5" y2="640" stroke="#ccc" stroke-width="0.35" />
<line x1="462.7" y1="582.5" x2="471.8" y2="582.5" stroke="#333" stroke-width="0.9" />
<line x1="462.7" y1="612.5" x2="471.8" y2="612.5" stroke="#333" stroke-width="0.9" />
<line x1="462.7" y1="640.5" x2="471.8" y2="640.5" stroke="#333" stroke-width="0.9" />
<rect x="465.00" y="640.00" width="4.50" height="31.40" fill="#000"/>
<rect x="464.30" y="671.40" width="5.90" height="43.90" fill="#fff"/>
<line x1="464.5" y1="671.4" x2="464.5" y2="715.3" stroke="#444" stroke-width="0.9" />
<line x1="470.5" y1="671.4" x2="470.5" y2="715.3" stroke="#444" stroke-width="0.9" />
<line x1="467.5" y1="671.4" x2="467.5" y2="715.3" stroke="#ccc" stroke-width="0.35" />
<line x1="462.7" y1="671.5" x2="471.8" y2="671.5" stroke="#333" stroke-width="0.9" />
<line x1="462.7" y1="693.5" x2="471.8" y2="693.5" stroke="#333" stroke-width="0.9" />
<line x1="462.7" y1="715.5" x2="471.8" y2="715.5" stroke="#333" stroke-width="0.9" />
<rect x="465.00" y="715.30" width="4.50" height="15.20" fill="#000"/>
<rect x="340.00" y="446.10" width="53.00" height="2.30" fill="#000"/>
<rect x="425.00" y="446.10" width="40.00" height="2.30" fill="#000"/>
<rect x="340.50" y="578.25" width="92.00" height="2.50" fill="#000"/>
<rect x="458.85" y="551.25" width="2.30" height="29.50" fill="#000"/>
<rect x="459.00" y="578.25" width="8.00" height="2.50" fill="#000"/>
<path d="M432.5,579.5 A27.5,27.5 0 0 1 460,552" stroke="#333" stroke-width="1" fill="none" />
<line x1="458.5" y1="611.25" x2="458.5" y2="583.75" stroke="#333" stroke-width="0.9" />
<line x1="458.75" y1="583.75" x2="462.34" y2="588.56" stroke="#333" stroke-width="0.9" />
<line x1="458.75" y1="583.75" x2="455.16" y2="588.56" stroke="#333" stroke-width="0.9" />
<rect x="341.5" y="420.5" width="5.0" height="17.0" rx="0" stroke="#444" stroke-width="0.8" fill="#fff" />
<ellipse cx="355.6" cy="429.2" rx="9.5" ry="6.2" stroke="#444" stroke-width="0.9" fill="#fff"/>
<ellipse cx="356.3" cy="429.2" rx="7.3" ry="4.6" stroke="#555" stroke-width="0.7" fill="none"/>
<rect x="376.5" y="404.5" width="30.0" height="16.0" rx="0" stroke="#555" stroke-width="0.8" fill="none" />
<ellipse cx="391.25" cy="411.75" rx="8.6" ry="5.6" stroke="#444" stroke-width="0.9" fill="none"/>
<rect x="431.5" y="404.5" width="34.0" height="41.0" rx="0" stroke="#555" stroke-width="0.8" fill="none" />
<line x1="431.75" y1="404.5" x2="465" y2="445.5" stroke="#555" stroke-width="0.8" />
<line x1="465" y1="404.5" x2="431.75" y2="445.5" stroke="#555" stroke-width="0.8" />
<text x="398" y="436.22" font-size="9" text-anchor="middle" fill="#111" style="stroke-width:0.35px">ENS</text>
<text x="402.5" y="509.80" font-size="12" text-anchor="middle" fill="#111">BEDROOM</text>
<text x="402.5" y="523.80" font-size="12" text-anchor="middle" fill="#111">3.4 x 3.5</text>
<text x="401.75" y="648.80" font-size="12" text-anchor="middle" fill="#111">GAMES</text>
<text x="401.75" y="663.30" font-size="12" text-anchor="middle" fill="#111">ROOM</text>
<text x="485.9" y="528.72" font-size="9" text-anchor="middle" fill="#111" style="stroke-width:0.35px">RAMP</text>
<text x="486.5" y="706.52" font-size="9" text-anchor="middle" fill="#111" style="stroke-width:0.35px">RAMP</text>
<text x="486.5" y="618.80" font-size="12" text-anchor="middle" fill="#111" transform="rotate(-90 486.5 614.5)">DECK</text>
<rect x="444.5" y="663.5" width="21.0" height="50.0" rx="0" stroke="#555" stroke-width="0.8" fill="none" />
<rect x="447.3" y="671.4" width="15.199999999999989" height="34.0" rx="2" stroke="#444" stroke-width="0.8" fill="none" />
<rect x="449.5" y="674.3" width="11.199999999999989" height="13.100000000000023" rx="2" stroke="#444" stroke-width="0.8" fill="none" />
<line x1="450.5" y1="690.5" x2="450.5" y2="701.5" stroke="#777" stroke-width="0.6" />
<line x1="453.5" y1="690.5" x2="453.5" y2="701.5" stroke="#777" stroke-width="0.6" />
<line x1="455.5" y1="690.5" x2="455.5" y2="701.5" stroke="#777" stroke-width="0.6" />
<line x1="458.5" y1="690.5" x2="458.5" y2="701.5" stroke="#777" stroke-width="0.6" />
<line x1="460.5" y1="690.5" x2="460.5" y2="701.5" stroke="#777" stroke-width="0.6" />
<circle cx="537.5" cy="363.75" r="18.3" stroke="#444" stroke-width="1" fill="none"/>
<circle cx="537.5" cy="363.75" r="15" stroke="#444" stroke-width="1" fill="none"/>
<text x="537.5" y="366.44" font-size="7.5" text-anchor="middle" fill="#111" style="stroke-width:0.35px">WF</text>
<rect x="336.00" y="847.75" width="26.50" height="4.50" fill="#000"/>
<rect x="362.50" y="847.05" width="49.25" height="5.90" fill="#fff"/>
<line x1="362.5" y1="847.5" x2="411.75" y2="847.5" stroke="#444" stroke-width="0.9" />
<line x1="362.5" y1="852.5" x2="411.75" y2="852.5" stroke="#444" stroke-width="0.9" />
<line x1="362.5" y1="850.5" x2="411.75" y2="850.5" stroke="#ccc" stroke-width="0.35" />
<line x1="362.5" y1="845.4499999999999" x2="362.5" y2="854.5500000000001" stroke="#333" stroke-width="0.9" />
<line x1="387.5" y1="845.4499999999999" x2="387.5" y2="854.5500000000001" stroke="#333" stroke-width="0.9" />
<line x1="411.5" y1="845.4499999999999" x2="411.5" y2="854.5500000000001" stroke="#333" stroke-width="0.9" />
<rect x="411.75" y="847.75" width="39.50" height="4.50" fill="#000"/>
<rect x="451.25" y="847.05" width="47.50" height="5.90" fill="#fff"/>
<line x1="451.25" y1="847.5" x2="498.75" y2="847.5" stroke="#444" stroke-width="0.9" />
<line x1="451.25" y1="852.5" x2="498.75" y2="852.5" stroke="#444" stroke-width="0.9" />
<line x1="451.25" y1="850.5" x2="498.75" y2="850.5" stroke="#ccc" stroke-width="0.35" />
<line x1="451.5" y1="845.4499999999999" x2="451.5" y2="854.5500000000001" stroke="#333" stroke-width="0.9" />
<line x1="475.5" y1="845.4499999999999" x2="475.5" y2="854.5500000000001" stroke="#333" stroke-width="0.9" />
<line x1="498.5" y1="845.4499999999999" x2="498.5" y2="854.5500000000001" stroke="#333" stroke-width="0.9" />
<rect x="498.75" y="847.75" width="25.00" height="4.50" fill="#000"/>
<rect x="523.75" y="847.05" width="25.00" height="5.90" fill="#fff"/>
<line x1="523.75" y1="847.5" x2="548.75" y2="847.5" stroke="#444" stroke-width="0.9" />
<line x1="523.75" y1="852.5" x2="548.75" y2="852.5" stroke="#444" stroke-width="0.9" />
<line x1="523.75" y1="850.5" x2="548.75" y2="850.5" stroke="#ccc" stroke-width="0.35" />
<line x1="523.5" y1="845.4499999999999" x2="523.5" y2="854.5500000000001" stroke="#333" stroke-width="0.9" />
<line x1="548.5" y1="845.4499999999999" x2="548.5" y2="854.5500000000001" stroke="#333" stroke-width="0.9" />
<rect x="548.75" y="847.75" width="7.50" height="4.50" fill="#000"/>
<rect x="585.00" y="847.75" width="10.00" height="4.50" fill="#000"/>
<rect x="595.00" y="847.05" width="27.50" height="5.90" fill="#fff"/>
<line x1="595" y1="847.5" x2="622.5" y2="847.5" stroke="#444" stroke-width="0.9" />
<line x1="595" y1="852.5" x2="622.5" y2="852.5" stroke="#444" stroke-width="0.9" />
<line x1="595" y1="850.5" x2="622.5" y2="850.5" stroke="#ccc" stroke-width="0.35" />
<line x1="595.5" y1="845.4499999999999" x2="595.5" y2="854.5500000000001" stroke="#333" stroke-width="0.9" />
<line x1="622.5" y1="845.4499999999999" x2="622.5" y2="854.5500000000001" stroke="#333" stroke-width="0.9" />
<rect x="622.50" y="847.75" width="33.75" height="4.50" fill="#000"/>
<rect x="656.25" y="847.05" width="57.50" height="5.90" fill="#fff"/>
<line x1="656.25" y1="847.5" x2="713.75" y2="847.5" stroke="#444" stroke-width="0.9" />
<line x1="656.25" y1="852.5" x2="713.75" y2="852.5" stroke="#444" stroke-width="0.9" />
<line x1="656.25" y1="850.5" x2="713.75" y2="850.5" stroke="#ccc" stroke-width="0.35" />
<line x1="656.5" y1="845.4499999999999" x2="656.5" y2="854.5500000000001" stroke="#333" stroke-width="0.9" />
<line x1="685.5" y1="845.4499999999999" x2="685.5" y2="854.5500000000001" stroke="#333" stroke-width="0.9" />
<line x1="713.5" y1="845.4499999999999" x2="713.5" y2="854.5500000000001" stroke="#333" stroke-width="0.9" />
<rect x="713.75" y="847.75" width="33.50" height="4.50" fill="#000"/>
<rect x="336.00" y="847.75" width="4.50" height="171.75" fill="#000"/>
<rect x="335.30" y="1019.50" width="5.90" height="55.50" fill="#fff"/>
<line x1="335.5" y1="1019.5" x2="335.5" y2="1075" stroke="#444" stroke-width="0.9" />
<line x1="341.5" y1="1019.5" x2="341.5" y2="1075" stroke="#444" stroke-width="0.9" />
<line x1="338.5" y1="1019.5" x2="338.5" y2="1075" stroke="#ccc" stroke-width="0.35" />
<line x1="333.7" y1="1019.5" x2="342.8" y2="1019.5" stroke="#333" stroke-width="0.9" />
<line x1="333.7" y1="1047.5" x2="342.8" y2="1047.5" stroke="#333" stroke-width="0.9" />
<line x1="333.7" y1="1075.5" x2="342.8" y2="1075.5" stroke="#333" stroke-width="0.9" />
<rect x="336.00" y="1075.00" width="4.50" height="157.30" fill="#000"/>
<rect x="742.75" y="847.75" width="4.50" height="112.25" fill="#000"/>
<rect x="742.05" y="960.00" width="5.90" height="27.50" fill="#fff"/>
<line x1="742.5" y1="960" x2="742.5" y2="987.5" stroke="#444" stroke-width="0.9" />
<line x1="747.5" y1="960" x2="747.5" y2="987.5" stroke="#444" stroke-width="0.9" />
<line x1="745.5" y1="960" x2="745.5" y2="987.5" stroke="#ccc" stroke-width="0.35" />
<line x1="740.4499999999999" y1="960.5" x2="749.5500000000001" y2="960.5" stroke="#333" stroke-width="0.9" />
<line x1="740.4499999999999" y1="987.5" x2="749.5500000000001" y2="987.5" stroke="#333" stroke-width="0.9" />
<rect x="739.50" y="986.50" width="9.00" height="8.50" fill="#000"/>
<rect x="663.00" y="988.75" width="20.00" height="4.50" fill="#000"/>
<rect x="683.00" y="988.05" width="57.00" height="5.90" fill="#fff"/>
<line x1="683" y1="988.5" x2="740" y2="988.5" stroke="#444" stroke-width="0.9" />
<line x1="683" y1="993.5" x2="740" y2="993.5" stroke="#444" stroke-width="0.9" />
<line x1="683" y1="991.5" x2="740" y2="991.5" stroke="#ccc" stroke-width="0.35" />
<line x1="683.5" y1="986.4499999999999" x2="683.5" y2="995.5500000000001" stroke="#333" stroke-width="0.9" />
<line x1="711.5" y1="986.4499999999999" x2="711.5" y2="995.5500000000001" stroke="#333" stroke-width="0.9" />
<line x1="740.5" y1="986.4499999999999" x2="740.5" y2="995.5500000000001" stroke="#333" stroke-width="0.9" />
<rect x="663.25" y="988.00" width="5.50" height="155.75" fill="#000"/>
<rect x="663.05" y="1143.75" width="5.90" height="27.50" fill="#fff"/>
<line x1="663.5" y1="1143.75" x2="663.5" y2="1171.25" stroke="#444" stroke-width="0.9" />
<line x1="668.5" y1="1143.75" x2="668.5" y2="1171.25" stroke="#444" stroke-width="0.9" />
<line x1="666.5" y1="1143.75" x2="666.5" y2="1171.25" stroke="#ccc" stroke-width="0.35" />
<line x1="661.4499999999999" y1="1143.5" x2="670.5500000000001" y2="1143.5" stroke="#333" stroke-width="0.9" />
<line x1="661.4499999999999" y1="1171.5" x2="670.5500000000001" y2="1171.5" stroke="#333" stroke-width="0.9" />
<rect x="660.00" y="1170.00" width="8.50" height="7.50" fill="#000"/>
<rect x="527.00" y="1172.00" width="56.75" height="4.50" fill="#000"/>
<rect x="583.75" y="1171.30" width="76.25" height="5.90" fill="#fff"/>
<line x1="583.75" y1="1171.5" x2="660" y2="1171.5" stroke="#444" stroke-width="0.9" />
<line x1="583.75" y1="1177.5" x2="660" y2="1177.5" stroke="#444" stroke-width="0.9" />
<line x1="583.75" y1="1174.5" x2="660" y2="1174.5" stroke="#ccc" stroke-width="0.35" />
<line x1="583.5" y1="1169.7" x2="583.5" y2="1178.8" stroke="#333" stroke-width="0.9" />
<line x1="602.5" y1="1169.7" x2="602.5" y2="1178.8" stroke="#333" stroke-width="0.9" />
<line x1="641.5" y1="1169.7" x2="641.5" y2="1178.8" stroke="#333" stroke-width="0.9" />
<line x1="660.5" y1="1169.7" x2="660.5" y2="1178.8" stroke="#333" stroke-width="0.9" />
<rect x="526.55" y="1152.50" width="4.90" height="24.10" fill="#000"/>
<rect x="473.40" y="1152.50" width="14.20" height="4.30" fill="#000"/>
<rect x="515.40" y="1152.50" width="16.10" height="4.30" fill="#000"/>
<rect x="514.25" y="1127.10" width="2.30" height="27.20" fill="#000"/>
<path d="M487.6,1154.3 A27.8,27.8 0 0 1 515.4,1127.1" stroke="#333" stroke-width="1" fill="none" />
<rect x="473.35" y="1152.50" width="4.30" height="79.70" fill="#000"/>
<rect x="530.50" y="1176.60" width="6.40" height="50.10" fill="#fff"/>
<line x1="530.5" y1="1176.6" x2="530.5" y2="1226.7" stroke="#444" stroke-width="0.9" />
<line x1="536.5" y1="1176.6" x2="536.5" y2="1226.7" stroke="#444" stroke-width="0.9" />
<line x1="533.5" y1="1176.6" x2="533.5" y2="1226.7" stroke="#ccc" stroke-width="0.35" />
<line x1="528.9" y1="1176.5" x2="538.5000000000001" y2="1176.5" stroke="#333" stroke-width="0.9" />
<line x1="528.9" y1="1226.5" x2="538.5000000000001" y2="1226.5" stroke="#333" stroke-width="0.9" />
<rect x="530.90" y="1226.70" width="4.10" height="5.70" fill="#000"/>
<rect x="477.70" y="1227.40" width="14.90" height="6.00" fill="#fff"/>
<line x1="477.7" y1="1227.5" x2="492.6" y2="1227.5" stroke="#444" stroke-width="0.9" />
<line x1="477.7" y1="1233.5" x2="492.6" y2="1233.5" stroke="#444" stroke-width="0.9" />
<line x1="477.7" y1="1230.5" x2="492.6" y2="1230.5" stroke="#ccc" stroke-width="0.35" />
<line x1="477.5" y1="1225.8000000000002" x2="477.5" y2="1235.0" stroke="#333" stroke-width="0.9" />
<line x1="492.5" y1="1225.8000000000002" x2="492.5" y2="1235.0" stroke="#333" stroke-width="0.9" />
<rect x="517.90" y="1227.40" width="13.10" height="6.00" fill="#fff"/>
<line x1="517.9" y1="1227.5" x2="531" y2="1227.5" stroke="#444" stroke-width="0.9" />
<line x1="517.9" y1="1233.5" x2="531" y2="1233.5" stroke="#444" stroke-width="0.9" />
<line x1="517.9" y1="1230.5" x2="531" y2="1230.5" stroke="#ccc" stroke-width="0.35" />
<line x1="517.5" y1="1225.8000000000002" x2="517.5" y2="1235.0" stroke="#333" stroke-width="0.9" />
<line x1="531.5" y1="1225.8000000000002" x2="531.5" y2="1235.0" stroke="#333" stroke-width="0.9" />
<rect x="336.00" y="1227.80" width="42.75" height="4.40" fill="#000"/>
<rect x="378.75" y="1227.10" width="65.00" height="5.80" fill="#fff"/>
<line x1="378.75" y1="1227.5" x2="443.75" y2="1227.5" stroke="#444" stroke-width="0.9" />
<line x1="378.75" y1="1232.5" x2="443.75" y2="1232.5" stroke="#444" stroke-width="0.9" />
<line x1="378.75" y1="1230.5" x2="443.75" y2="1230.5" stroke="#ccc" stroke-width="0.35" />
<line x1="378.5" y1="1225.5" x2="378.5" y2="1234.5" stroke="#333" stroke-width="0.9" />
<line x1="395.5" y1="1225.5" x2="395.5" y2="1234.5" stroke="#333" stroke-width="0.9" />
<line x1="428.5" y1="1225.5" x2="428.5" y2="1234.5" stroke="#333" stroke-width="0.9" />
<line x1="443.5" y1="1225.5" x2="443.5" y2="1234.5" stroke="#333" stroke-width="0.9" />
<rect x="443.75" y="1227.80" width="33.95" height="4.40" fill="#000"/>
<rect x="529.65" y="1113.50" width="2.50" height="39.50" fill="#000"/>
<rect x="527.40" y="1083.75" width="6.40" height="29.75" fill="#fff"/>
<line x1="527.5" y1="1083.75" x2="527.5" y2="1113.5" stroke="#444" stroke-width="0.9" />
<line x1="533.5" y1="1083.75" x2="533.5" y2="1113.5" stroke="#444" stroke-width="0.9" />
<line x1="530.5" y1="1083.75" x2="530.5" y2="1113.5" stroke="#ccc" stroke-width="0.35" />
<line x1="525.8" y1="1083.5" x2="535.4000000000001" y2="1083.5" stroke="#333" stroke-width="0.9" />
<line x1="525.8" y1="1113.5" x2="535.4000000000001" y2="1113.5" stroke="#333" stroke-width="0.9" />
<rect x="529.25" y="989.50" width="2.50" height="57.50" fill="#000"/>
<path d="M530.5,1047 L524,1050.5 L530.5,1054 L524,1057.5 L530.5,1061 L524,1064.5 L530.5,1068 L527,1070" stroke="#333" stroke-width="0.9" fill="none" />
<rect x="507.00" y="989.50" width="86.75" height="2.00" fill="#000"/>
<rect x="506.80" y="990.50" width="1.40" height="44.50" fill="#000"/>
<rect x="507.00" y="1034.00" width="24.50" height="2.00" fill="#000"/>
<text x="519.25" y="1015.22" font-size="9" text-anchor="middle" fill="#111" style="stroke-width:0.35px">C</text>
<path d="M594,990.5 L597,995.8 L600,990.8 L603,995.8 L606,990.8 L609,995.8 L612,990.8 L615,995.8" stroke="#333" stroke-width="0.9" fill="none" />
<line x1="594" y1="996.5" x2="615.5" y2="996.5" stroke="#444" stroke-width="0.8" />
<path d="M612.5,994.8 L615.5,996.8 L612.5,998.6" stroke="#444" stroke-width="0.8" fill="none" />
<rect x="631.25" y="989.50" width="34.75" height="2.00" fill="#000"/>
<rect x="445.60" y="848.00" width="2.00" height="110.30" fill="#000"/>
<rect x="450.30" y="927.10" width="1.80" height="30.40" fill="#000"/>
<rect x="445.60" y="956.05" width="6.50" height="1.50" fill="#000"/>
<path d="M451.2,927.1 A28.5,28.5 0 0 1 479.7,955.6" stroke="#333" stroke-width="1" fill="none" />
<rect x="340.50" y="989.15" width="107.50" height="1.90" fill="#000"/>
<rect x="418.3" y="986.1" width="28.899999999999977" height="4.0" rx="0" stroke="#000" stroke-width="1.2" fill="#fff" />
<path d="M418.75,986.25 A28.3,28.3 0 0 1 447,958" stroke="#333" stroke-width="1" fill="none" />
<rect x="445.1" y="989.8" width="29.099999999999966" height="4.600000000000023" rx="0" stroke="#000" stroke-width="1.2" fill="#fff" />
<path d="M445,995 A28.5,28.5 0 0 0 473.75,1022.5" stroke="#333" stroke-width="1" fill="none" />
<rect x="472.75" y="1022.50" width="2.00" height="91.00" fill="#000"/>
<rect x="340.50" y="1094.35" width="134.00" height="1.90" fill="#000"/>
<rect x="445.00" y="1112.05" width="29.50" height="1.90" fill="#000"/>
<path d="M445,1113.5 A28.5,28.5 0 0 0 473.4,1142" stroke="#333" stroke-width="1" fill="none" />
<rect x="472.35" y="1142.00" width="2.50" height="11.00" fill="#000"/>
<rect x="451.5" y="1152.5" width="22.0" height="75.0" rx="0" stroke="#333" stroke-width="1" fill="none" />
<rect x="451.00" y="1151.50" width="23.00" height="2.20" fill="#000"/>
<text x="462.3" y="1193.80" font-size="9.5" text-anchor="middle" fill="#111" style="stroke-width:0.35px" transform="rotate(-90 462.3 1190.4)">ROBE</text>
<rect x="479.00" y="954.45" width="42.00" height="2.10" fill="#000"/>
<rect x="521.00" y="954.85" width="36.50" height="1.30" fill="#000"/>
<rect x="484.5" y="903.5" width="33.0" height="52.0" rx="0" stroke="#555" stroke-width="0.8" fill="none" />
<line x1="484.5" y1="903.75" x2="517.5" y2="955" stroke="#555" stroke-width="0.8" />
<line x1="517.5" y1="903.75" x2="484.5" y2="955" stroke="#555" stroke-width="0.8" />
<rect x="499.5" y="852.5" width="18.0" height="35.0" rx="0" stroke="#555" stroke-width="0.8" fill="none" />
<rect x="502.5" y="861.5" width="12.0" height="19.0" rx="0" stroke="#444" stroke-width="0.9" fill="none" />
<rect x="517.75" y="848.00" width="2.00" height="107.50" fill="#000"/>
<text x="474.5" y="896.30" font-size="12" text-anchor="middle" fill="#111">BATH</text>
<rect x="528.5" y="852.5" width="13.0" height="5.0" rx="0" stroke="#444" stroke-width="0.8" fill="#fff" />
<ellipse cx="535" cy="867.5" rx="6" ry="9" stroke="#444" stroke-width="0.9" fill="none"/>
<rect x="552.00" y="848.00" width="3.50" height="40.75" fill="#000"/>
<path d="M552.5,888.75 A27.5,27.5 0 0 0 525,916.25" stroke="#333" stroke-width="1" fill="none" />
<rect x="523.75" y="916.00" width="31.50" height="3.00" fill="#000"/>
<rect x="551.00" y="917.50" width="3.00" height="39.00" fill="#000"/>
<rect x="518.75" y="925.05" width="33.75" height="1.40" fill="#000"/>
<text x="535" y="943.22" font-size="9" text-anchor="middle" fill="#111" style="stroke-width:0.35px">C</text>
<rect x="555.10" y="849.50" width="2.30" height="26.75" fill="#000"/>
<path d="M556.25,876.25 A27.5,27.5 0 0 0 583.75,849.5" stroke="#333" stroke-width="1" fill="none" />
<rect x="556.85" y="927.50" width="2.30" height="29.00" fill="#000"/>
<path d="M558,927.5 A28,28 0 0 1 586.25,955" stroke="#333" stroke-width="1" fill="none" />
<rect x="586.25" y="954.00" width="62.25" height="2.00" fill="#000"/>
<rect x="622.00" y="848.00" width="2.50" height="108.50" fill="#000"/>
<rect x="605.5" y="853.5" width="17.0" height="24.0" rx="0" stroke="#555" stroke-width="0.8" fill="none" />
<rect x="607.5" y="856.5" width="13.0" height="18.0" rx="0" stroke="#444" stroke-width="0.9" fill="none" />
<text x="588" y="905.55" font-size="12" text-anchor="middle" fill="#111">L&#8217;DRY</text>
<rect x="626.25" y="892" width="18.75" height="19.25" rx="2" stroke="#444" stroke-width="0.8" fill="none" />
<circle cx="631.5" cy="897.5" r="3.3" stroke="#444" stroke-width="0.8" fill="none"/>
<circle cx="639.8" cy="897.5" r="3.3" stroke="#444" stroke-width="0.8" fill="none"/>
<circle cx="631.5" cy="905.8" r="3.3" stroke="#444" stroke-width="0.8" fill="none"/>
<circle cx="639.8" cy="905.8" r="3.3" stroke="#444" stroke-width="0.8" fill="none"/>
<polyline points="647.5,937 647.5,878.75 653.75,873.75 718.75,873.75 718.75,852.3" stroke="#555" stroke-width="0.9" fill="none" />
<rect x="624.5" y="937.5" width="23.0" height="18.0" rx="0" stroke="#333" stroke-width="0.9" fill="none" />
<rect x="624.00" y="936.40" width="24.00" height="1.80" fill="#000"/>
<text x="635" y="948.72" font-size="9" text-anchor="middle" fill="#111" style="stroke-width:0.35px">P</text>
<rect x="672.5" y="855" width="35.0" height="16.25" rx="3" stroke="#444" stroke-width="0.9" fill="none" />
<rect x="675" y="857.5" width="13.5" height="11.5" rx="2" stroke="#444" stroke-width="0.9" fill="none" />
<line x1="691" y1="858.5" x2="704.5" y2="858.5" stroke="#666" stroke-width="0.6" />
<line x1="691" y1="861.5" x2="704.5" y2="861.5" stroke="#666" stroke-width="0.6" />
<line x1="691" y1="863.5" x2="704.5" y2="863.5" stroke="#666" stroke-width="0.6" />
<line x1="691" y1="866.5" x2="704.5" y2="866.5" stroke="#666" stroke-width="0.6" />
<line x1="691" y1="868.5" x2="704.5" y2="868.5" stroke="#666" stroke-width="0.6" />
<text x="695" y="916.05" font-size="12" text-anchor="middle" fill="#111">KITCHEN /</text>
<text x="695" y="930.05" font-size="12" text-anchor="middle" fill="#111">MEALS</text>
<text x="695" y="944.80" font-size="12" text-anchor="middle" fill="#111">3.2 x 3.7</text>
<rect x="650.00" y="1050.00" width="15.00" height="17.50" fill="#000"/>
<rect x="650.5" y="1067.5" width="8.0" height="40.0" rx="0" stroke="#444" stroke-width="0.9" fill="#fff" />
<rect x="650.00" y="1107.50" width="15.00" height="15.00" fill="#000"/>
<rect x="658.5" y="1122.5" width="5.0" height="19.0" rx="0" stroke="#555" stroke-width="0.8" fill="none" />
<text x="645.75" y="1088.76" font-size="7" text-anchor="middle" fill="#111" style="stroke-width:0.35px">H</text>
<text x="590" y="1077.30" font-size="12" text-anchor="middle" fill="#111">LIVING</text>
<text x="590" y="1092.30" font-size="12" text-anchor="middle" fill="#111">3.6 x 4.9</text>
<text x="393" y="917.30" font-size="12" text-anchor="middle" fill="#111">BEDROOM</text>
<text x="393" y="931.80" font-size="12" text-anchor="middle" fill="#111">2.9 x 3.6</text>
<text x="406.25" y="1039.30" font-size="12" text-anchor="middle" fill="#111">BEDROOM</text>
<text x="406.25" y="1053.80" font-size="12" text-anchor="middle" fill="#111">3.6 x 2.8</text>
<text x="395.5" y="1158.05" font-size="12" text-anchor="middle" fill="#111">BEDROOM</text>
<text x="395.5" y="1172.30" font-size="12" text-anchor="middle" fill="#111">3.6 x 3.6</text>
<text x="501.8" y="1111.00" font-size="12" text-anchor="middle" fill="#111">ENTRY</text>
<text x="501.8" y="1190.80" font-size="12" text-anchor="middle" fill="#111">U/C</text>
<text x="501.8" y="1204.70" font-size="12" text-anchor="middle" fill="#111">PORCH</text>
<text x="532.1" y="788.10" font-size="12" text-anchor="middle" fill="#111">UNDERCOVER</text>
<text x="532.1" y="802.30" font-size="12" text-anchor="middle" fill="#111">ENTERTAINING AREA</text>
<text x="532.1" y="816.70" font-size="12" text-anchor="middle" fill="#111">10.5 x 2.5</text>
<text x="795.3" y="760.60" font-size="12" text-anchor="middle" fill="#111">CARPORT</text>
<text x="790" y="1356.80" font-size="12" text-anchor="middle" fill="#111">DRIVEWAY</text>
</svg>
</body></html>
